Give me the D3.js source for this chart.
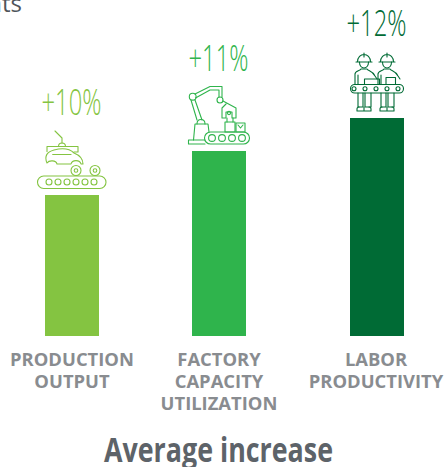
<!DOCTYPE html>
<html><head><meta charset="utf-8">
<script src="https://cdn.jsdelivr.net/npm/d3@7/dist/d3.min.js"></script>
<style>html,body{margin:0;padding:0;background:#fff;overflow:hidden}svg{display:block}text{font-family:"Open Sans",sans-serif}</style>
</head><body><svg id="c" width="446" height="467"></svg>
<script>
const categories = ["production","capacity","labor"];
const values = [10, 11, 12];
const valueLabels = ["+10%","+11%","+12%"];
const categoryLines = [["PRODUCTION","OUTPUT"],["FACTORY","CAPACITY","UTILIZATION"],["LABOR","PRODUCTIVITY"]];
const barColors = ["#84c441","#2fb44c","#006b35"];
const title = "Average increase";
const clippedHeading = "nts";

const svg = d3.select("#c");
const x = d3.scaleOrdinal().domain(categories).range([45,192,350]);
const color = d3.scaleOrdinal().domain(categories).range(barColors);
const y = d3.scaleLinear().domain([8,10,11,12]).range([336,195,151,118]);
const labelY = d3.scaleOrdinal().domain(categories).range([115,71,36]);
const barW = 54;
const rows = categories.map((c,i)=>({c,v:values[i],label:valueLabels[i],lines:categoryLines[i]}));

svg.append("text").attr("x",22).attr("y",11.5).attr("text-anchor","end")
  .attr("font-size",24).attr("fill","#50555b").text(clippedHeading);

svg.selectAll("rect.bar").data(rows).join("rect").attr("class","bar")
  .attr("x",d=>x(d.c)).attr("y",d=>y(d.v)).attr("width",barW).attr("height",d=>y(8)-y(d.v))
  .attr("fill",d=>color(d.c));

svg.selectAll("text.val").data(rows).join("text").attr("class","val")
  .attr("x",d=>x(d.c)+barW/2-0.5).attr("y",d=>labelY(d.c)).attr("text-anchor","middle")
  .attr("font-size",36).attr("font-weight",300).attr("textLength",60).attr("lengthAdjust","spacingAndGlyphs")
  .attr("fill",d=>color(d.c)).text(d=>d.label);

const labels = svg.selectAll("text.cat").data(rows).join("text").attr("class","cat")
  .attr("text-anchor","middle").attr("font-size",18.4).attr("font-weight",700).attr("fill","#898c90");
labels.selectAll("tspan").data(d=>d.lines.map(l=>({l,c:d.c}))).join("tspan")
  .attr("x",d=>x(d.c)+barW/2 + (d.c==="labor"?-1:0)).attr("y",(d,i)=>366+i*22).text(d=>d.l);

svg.append("text").attr("x",218.5).attr("y",462).attr("text-anchor","middle")
  .attr("font-size",34).attr("font-weight",700).attr("textLength",229).attr("lengthAdjust","spacingAndGlyphs")
  .attr("fill","#5d6369").text(title);

// pictograms
function icon(col){return svg.append("g").attr("fill","none").attr("stroke",col).attr("stroke-width",1.1).attr("stroke-linejoin","round").attr("stroke-linecap","round");}
const P=(g,d)=>g.append("path").attr("d",d);
const C=(g,a,b,r)=>g.append("circle").attr("cx",a).attr("cy",b).attr("r",r);
const R=(g,a,b,w,h,r=0)=>g.append("rect").attr("x",a).attr("y",b).attr("width",w).attr("height",h).attr("rx",r);

const g1=icon(barColors[0]);
R(g1,37.5,176,68.5,12.5,6.2);
[49,58,67,76,85,94].forEach(a=>C(g1,a,182,3));
[76,95].forEach(a=>{C(g1,a,170.5,5);C(g1,a,170.5,1.8);});
P(g1,"M55,131L62,138V143");
P(g1,"M58.5,146.5A3.5,3.5 0 0 1 65.5,146.5");
P(g1,"M47,151.5V146.5H78V152H74");
P(g1,"M47,163C44,156 47,152 54,150C62,148 70,149 74,153C79,155 83,159 83,164H81C80,159.5 72,159.5 71,164H57C56,160 49,160 47,163Z").attr("fill","#fff");
P(g1,"M52.7,154.5H71");

const g2=icon(barColors[1]);
R(g2,204.5,132,45,12,6);
[212,222,232,242].forEach(a=>C(g2,a,138,3.4));
P(g2,"M205,144H188.5V140H205");
P(g2,"M193.5,140L195,124H208L209,132");
P(g2,"M197,124C197,118 205,118 205,124");
C(g2,192.7,96.7,3.4);
C(g2,220,100,3);
P(g2,"M191,100L197,120M195,100L202,120");
P(g2,"M195,94L210,86.5H222V97M195.5,98L210,90H219V97");
P(g2,"M223,101L236,108V118H232V112H226V118H222V108L226,104");
C(g2,229,113,1.6);
R(g2,225,122,10,10);
P(g2,"M227,122V118M233,122V118");
R(g2,236,123,9,9);
P(g2,"M238,125L240.5,128L243,125");

const g3=icon(barColors[2]);
[364,387].forEach(c=>{
  P(g3,`M${c-8},62H${c+8}M${c-6.5},62C${c-6.5},52 ${c+6.5},52 ${c+6.5},62M${c},53V57`);
  P(g3,`M${c-4.5},62C${c-4.5},70 ${c+4.5},70 ${c+4.5},62`);
  P(g3,`M${c-9},84V74C${c-9},71 ${c-4},71 ${c-3},69H${c+3}C${c+4},71 ${c+9},71 ${c+11},76L${c+13},79`);
  P(g3,`M${c-6},84V75M${c-6},93V107H${c-1}V93M${c+7},93V107H${c+1}V93`);
  P(g3,`M${c-7},111V109C${c-7},107.5 ${c-6},107 ${c-5},107M${c-7},111H${c}V107M${c},111H${c+7}V109C${c+7},107.5 ${c+6},107 ${c+5},107`);
});
R(g3,350.5,84.5,53,8.5,4.2);
[354,365,376,387,398].forEach(a=>C(g3,a,88.7,2));
R(g3,364.5,79,15,5.5);
R(g3,386,77.5,9.5,7);
</script></body></html>
